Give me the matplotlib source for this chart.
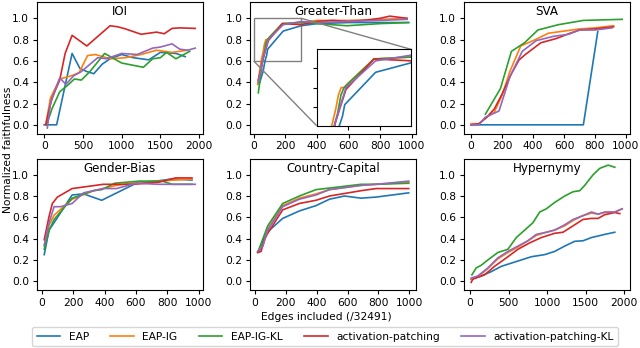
import matplotlib
matplotlib.use("Agg")
import matplotlib.pyplot as plt
from mpl_toolkits.axes_grid1.inset_locator import mark_inset

methods = ["EAP", "EAP-IG", "EAP-IG-KL", "activation-patching", "activation-patching-KL"]
colors = ["tab:blue", "tab:orange", "tab:green", "tab:red", "tab:purple"]

# IOI
ioi_eap_x = [0, 160, 360, 460, 550, 640, 750, 850, 1000, 1150, 1350, 1500, 1700, 1820]
ioi_eap_y = [0.0, 0.0, 0.67, 0.53, 0.50, 0.48, 0.57, 0.62, 0.66, 0.63, 0.61, 0.68, 0.67, 0.64]
ioi_ig_x = [20, 80, 200, 350, 450, 560, 660, 850, 1050, 1250, 1450, 1650, 1850]
ioi_ig_y = [0.0, 0.25, 0.43, 0.46, 0.49, 0.65, 0.66, 0.62, 0.63, 0.66, 0.70, 0.68, 0.70]
ioi_igkl_x = [30, 100, 200, 300, 390, 480, 590, 780, 1000, 1280, 1400, 1500, 1580, 1700, 1880]
ioi_igkl_y = [0.0, 0.15, 0.31, 0.37, 0.43, 0.42, 0.50, 0.67, 0.58, 0.54, 0.62, 0.63, 0.68, 0.62, 0.69]
ioi_ap_x = [20, 50, 100, 200, 270, 360, 550, 850, 950, 1050, 1250, 1450, 1550, 1650, 1750, 1950]
ioi_ap_y = [0.0, 0.10, 0.25, 0.42, 0.67, 0.84, 0.74, 0.93, 0.92, 0.90, 0.85, 0.87, 0.855, 0.905, 0.91, 0.905]
ioi_apkl_x = [40, 80, 200, 280, 380, 480, 690, 800, 1000, 1200, 1400, 1500, 1650, 1750, 1850, 1950]
ioi_apkl_y = [-0.03, 0.20, 0.44, 0.38, 0.46, 0.50, 0.63, 0.62, 0.67, 0.66, 0.72, 0.73, 0.76, 0.71, 0.70, 0.72]

# Greater-Than
gt_eap_x = [35, 60, 72, 82, 89, 187, 300, 400, 600, 980]
gt_eap_y = [0.38, 0.50, 0.60, 0.65, 0.71, 0.88, 0.93, 0.95, 0.96, 0.96]
gt_ig_x = [26, 48, 61, 69, 78, 88, 98, 182, 300, 400, 600, 800, 970]
gt_ig_y = [0.38, 0.60, 0.69, 0.76, 0.80, 0.80, 0.82, 0.95, 0.96, 0.98, 0.98, 0.99, 1.0]
gt_igkl_x = [30, 56, 66, 77, 87, 182, 298, 400, 590, 800, 978]
gt_igkl_y = [0.30, 0.60, 0.66, 0.76, 0.80, 0.95, 0.96, 0.95, 0.93, 0.95, 0.96]
gt_ap_x = [30, 60, 93, 182, 300, 400, 500, 600, 700, 800, 860, 968]
gt_ap_y = [0.42, 0.62, 0.79, 0.95, 0.94, 0.97, 0.98, 0.97, 0.98, 1.0, 1.02, 1.0]
gt_apkl_x = [30, 60, 93, 187, 300, 400, 600, 800, 970]
gt_apkl_y = [0.40, 0.62, 0.80, 0.94, 0.97, 0.96, 0.97, 0.98, 0.99]

# SVA
sva_eap_x = [0, 725, 818]
sva_eap_y = [0.0, 0.0, 0.875]
sva_ig_x = [0, 50, 100, 150, 200, 250, 320, 400, 500, 600, 700, 800, 920]
sva_ig_y = [0.01, 0.01, 0.07, 0.12, 0.28, 0.50, 0.74, 0.79, 0.86, 0.88, 0.90, 0.91, 0.93]
sva_igkl_x = [92, 189, 260, 345, 431, 564, 725, 976]
sva_igkl_y = [0.10, 0.34, 0.69, 0.77, 0.89, 0.94, 0.98, 0.99]
sva_ap_x = [0, 50, 100, 150, 200, 260, 310, 350, 450, 550, 640, 700, 800, 920]
sva_ap_y = [0.0, 0.01, 0.07, 0.15, 0.29, 0.48, 0.61, 0.66, 0.77, 0.81, 0.86, 0.89, 0.90, 0.92]
sva_apkl_x = [0, 50, 90, 180, 250, 330, 420, 530, 630, 700, 800, 910]
sva_apkl_y = [0.0, 0.0, 0.07, 0.13, 0.45, 0.69, 0.79, 0.83, 0.85, 0.89, 0.89, 0.91]

# Gender-Bias
gb_eap_x = [15, 46, 78, 193, 266, 382, 602, 727, 832, 958]
gb_eap_y = [0.25, 0.48, 0.55, 0.81, 0.82, 0.76, 0.92, 0.94, 0.96, 0.95]
gb_ig_x = [15, 46, 78, 193, 329, 476, 623, 853, 958]
gb_ig_y = [0.33, 0.53, 0.62, 0.77, 0.85, 0.90, 0.93, 0.95, 0.96]
gb_igkl_x = [15, 46, 78, 193, 329, 382, 465, 623, 769, 832, 958]
gb_igkl_y = [0.30, 0.48, 0.58, 0.78, 0.85, 0.86, 0.92, 0.94, 0.94, 0.91, 0.91]
gb_ap_x = [15, 46, 67, 99, 193, 392, 581, 748, 853, 958]
gb_ap_y = [0.39, 0.61, 0.73, 0.79, 0.87, 0.91, 0.91, 0.93, 0.97, 0.97]
gb_apkl_x = [15, 46, 78, 120, 193, 266, 392, 476, 602, 748, 853, 979]
gb_apkl_y = [0.34, 0.55, 0.70, 0.70, 0.73, 0.83, 0.87, 0.87, 0.92, 0.91, 0.91, 0.91]

# Country-Capital
cc_eap_x = [28, 71, 179, 287, 395, 482, 579, 687, 784, 996]
cc_eap_y = [0.28, 0.45, 0.59, 0.66, 0.71, 0.77, 0.80, 0.78, 0.79, 0.83]
cc_ig_x = [17, 50, 82, 179, 287, 395, 482, 687, 784, 996]
cc_ig_y = [0.28, 0.33, 0.49, 0.71, 0.78, 0.82, 0.86, 0.90, 0.91, 0.93]
cc_igkl_x = [17, 82, 179, 287, 395, 687, 784, 996]
cc_igkl_y = [0.27, 0.52, 0.73, 0.80, 0.86, 0.91, 0.91, 0.92]
cc_ap_x = [17, 39, 60, 82, 179, 287, 395, 482, 687, 784, 996]
cc_ap_y = [0.27, 0.28, 0.39, 0.45, 0.67, 0.73, 0.76, 0.80, 0.85, 0.87, 0.87]
cc_apkl_x = [17, 50, 82, 179, 287, 395, 482, 687, 784, 996]
cc_apkl_y = [0.28, 0.33, 0.48, 0.70, 0.77, 0.81, 0.86, 0.90, 0.91, 0.94]

# Hypernymy
hy_eap_x = [13, 143, 273, 404, 534, 664, 794, 968, 1097, 1228, 1358, 1466, 1575, 1749, 1879]
hy_eap_y = [0.02, 0.05, 0.09, 0.14, 0.17, 0.20, 0.23, 0.25, 0.28, 0.33, 0.375, 0.38, 0.41, 0.44, 0.46]
hy_ig_x = [13, 100, 230, 360, 490, 620, 750, 859, 989, 1097, 1228, 1336, 1445, 1575, 1662, 1749, 1879, 1975]
hy_ig_y = [0.02, 0.04, 0.12, 0.21, 0.27, 0.32, 0.38, 0.43, 0.46, 0.48, 0.52, 0.57, 0.61, 0.64, 0.63, 0.645, 0.65, 0.68]
hy_igkl_x = [22, 78, 143, 230, 360, 490, 599, 708, 816, 903, 989, 1098, 1228, 1336, 1423, 1488, 1597, 1684, 1792, 1879]
hy_igkl_y = [0.06, 0.125, 0.15, 0.20, 0.27, 0.30, 0.41, 0.48, 0.55, 0.65, 0.68, 0.74, 0.80, 0.84, 0.85, 0.90, 1.0, 1.06, 1.09, 1.07]
hy_ap_x = [13, 35, 187, 317, 490, 620, 772, 924, 1097, 1206, 1336, 1466, 1575, 1662, 1749, 1879, 1944]
hy_ap_y = [-0.01, 0.02, 0.06, 0.14, 0.23, 0.30, 0.36, 0.41, 0.45, 0.46, 0.52, 0.58, 0.59, 0.59, 0.625, 0.645, 0.635]
hy_apkl_x = [13, 100, 230, 360, 490, 620, 750, 859, 989, 1097, 1228, 1336, 1445, 1575, 1662, 1749, 1879, 1975]
hy_apkl_y = [0.03, 0.05, 0.125, 0.22, 0.28, 0.33, 0.38, 0.44, 0.46, 0.48, 0.53, 0.58, 0.61, 0.65, 0.63, 0.65, 0.65, 0.68]

tasks = [
    ("IOI", [(ioi_eap_x, ioi_eap_y), (ioi_ig_x, ioi_ig_y), (ioi_igkl_x, ioi_igkl_y),
             (ioi_ap_x, ioi_ap_y), (ioi_apkl_x, ioi_apkl_y)]),
    ("Greater-Than", [(gt_eap_x, gt_eap_y), (gt_ig_x, gt_ig_y), (gt_igkl_x, gt_igkl_y),
                      (gt_ap_x, gt_ap_y), (gt_apkl_x, gt_apkl_y)]),
    ("SVA", [(sva_eap_x, sva_eap_y), (sva_ig_x, sva_ig_y), (sva_igkl_x, sva_igkl_y),
             (sva_ap_x, sva_ap_y), (sva_apkl_x, sva_apkl_y)]),
    ("Gender-Bias", [(gb_eap_x, gb_eap_y), (gb_ig_x, gb_ig_y), (gb_igkl_x, gb_igkl_y),
                     (gb_ap_x, gb_ap_y), (gb_apkl_x, gb_apkl_y)]),
    ("Country-Capital", [(cc_eap_x, cc_eap_y), (cc_ig_x, cc_ig_y), (cc_igkl_x, cc_igkl_y),
                         (cc_ap_x, cc_ap_y), (cc_apkl_x, cc_apkl_y)]),
    ("Hypernymy", [(hy_eap_x, hy_eap_y), (hy_ig_x, hy_ig_y), (hy_igkl_x, hy_igkl_y),
                   (hy_ap_x, hy_ap_y), (hy_apkl_x, hy_apkl_y)]),
]
xmax = [2000, 1000, 1000, 1000, 1000, 2000]

fs = 7.7

fig, axes = plt.subplots(2, 3, figsize=(6.4, 3.48), dpi=100)
fig.subplots_adjust(left=0.0573, right=0.984, top=0.994, bottom=0.1667, wspace=0.285, hspace=0.19)

for ax, (name, series), xm in zip(axes.flat, tasks, xmax):
    for (x, y), c, m in zip(series, colors, methods):
        ax.plot(x, y, color=c, lw=1.2, label=m)
    ax.set_ylim(-0.082, 1.152)
    ax.set_yticks([0.0, 0.2, 0.4, 0.6, 0.8, 1.0])
    step = 500 if xm == 2000 else 200
    ax.set_xticks(list(range(0, xm + 1, step)))
    ax.text(0.5, 0.975, name, transform=ax.transAxes, ha='center', va='top', fontsize=8.6)
    ax.tick_params(labelsize=fs, length=3, pad=2.5)
    for s in ax.spines.values():
        s.set_linewidth(0.8)

# zoomed inset on Greater-Than
ax = axes[0, 1]
axins = ax.inset_axes([0.40, 0.06, 0.57, 0.58])
for (x, y), c in zip(tasks[1][1], colors):
    axins.plot(x, y, color=c, lw=1.2)
axins.set_xlim(0, 300)
axins.set_ylim(0.6, 1.0)
axins.set_xticks([100, 200])
axins.set_yticks([0.7, 0.8, 0.9])
axins.tick_params(labelleft=False, labelbottom=False, length=3)
mark_inset(ax, axins, loc1=1, loc2=3, fc='none', ec='0.5')

fig.supylabel("Normalized faithfulness", x=0.005, y=0.57, fontsize=fs)
fig.supxlabel("Edges included (/32491)", x=0.51, y=0.075, fontsize=fs)
handles, labels = axes[0, 0].get_legend_handles_labels()
fig.legend(handles, labels, loc='lower center', ncol=5, bbox_to_anchor=(0.508, 0.0),
           borderaxespad=0.2, fontsize=fs, handlelength=2.2, columnspacing=2.0)

plt.savefig('out.png', dpi=100)
